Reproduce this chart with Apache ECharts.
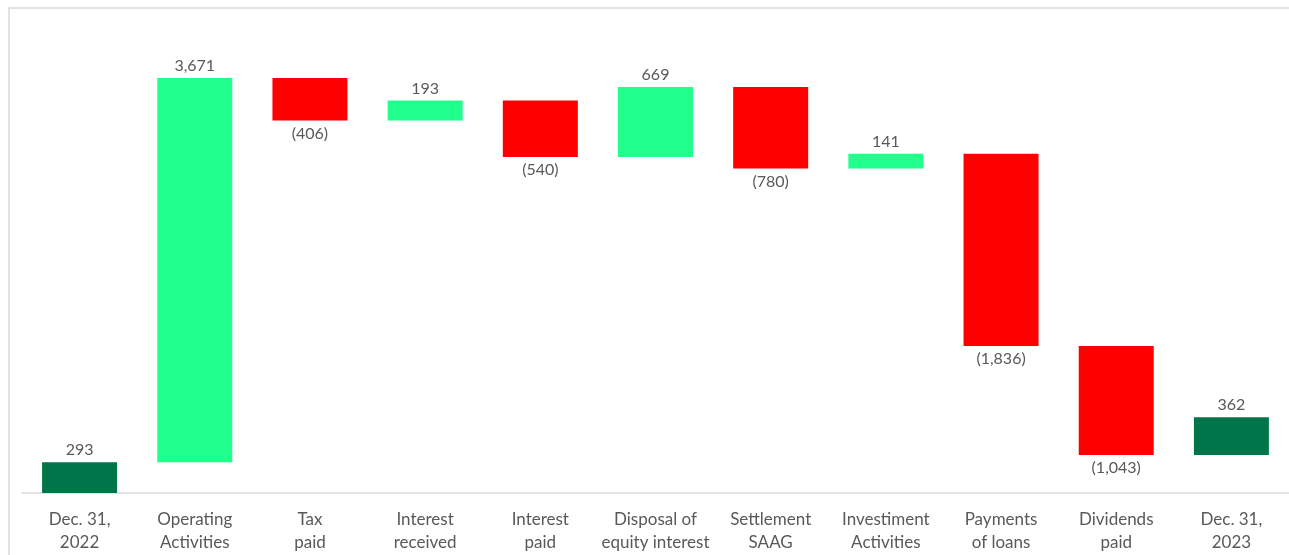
<!DOCTYPE html>
<html>
<head>
<meta charset="utf-8">
<style>
  html, body { margin: 0; padding: 0; background: #ffffff; }
  #chart { width: 1289px; height: 555px; }
</style>
<script src="https://cdn.jsdelivr.net/npm/echarts@6/dist/echarts.min.js"></script>
</head>
<body>
<div id="chart"></div>
<script>
// Cash flow bridge, 2022 -> 2023
const categories = [
  'Dec. 31,\n2022', 'Operating\nActivities', 'Tax\npaid', 'Interest\nreceived',
  'Interest\npaid', 'Disposal of\nequity interest', 'Settlement\nSAAG',
  'Investiment\nActivities', 'Payments\nof loans', 'Dividends\npaid', 'Dec. 31,\n2023'
];
// Signed movements; first and last entries are balances
const movements = [293, 3671, -406, 193, -540, 669, -780, 141, -1836, -1043, 362];
const kinds = ['total', 'step', 'step', 'step', 'step', 'step', 'step', 'step', 'step', 'step', 'total'];

const COLORS = { total: '#00754A', up: '#21FF8C', down: '#FF0000' };

// Build invisible offsets and visible bar heights
const base = [];
const heights = [];
let running = 0;
movements.forEach((v, i) => {
  if (i === 0) {
    base.push(0);
    heights.push(v);
    running = v;
  } else if (kinds[i] === 'total') {
    // closing balance bar sits on the last running level
    base.push(running);
    heights.push(v);
  } else if (v >= 0) {
    base.push(running);
    heights.push(v);
    running += v;
  } else {
    running += v;
    base.push(running);
    heights.push(-v);
  }
});

const fmt = (v) => {
  const s = Math.abs(v).toLocaleString('en-US');
  return v < 0 ? '(' + s + ')' : s;
};

const visible = heights.map((h, i) => {
  const v = movements[i];
  const color = kinds[i] === 'total' ? COLORS.total : (v >= 0 ? COLORS.up : COLORS.down);
  return {
    value: h,
    itemStyle: { color: color },
    label: {
      show: true,
      position: v >= 0 ? 'top' : 'bottom',
      distance: v >= 0 ? 4 : 5,
      formatter: fmt(v)
    }
  };
});

const chart = echarts.init(document.getElementById('chart'));
chart.setOption({
  animation: false,
  backgroundColor: '#ffffff',
  textStyle: { fontFamily: 'Lato, "Open Sans", sans-serif' },
  graphic: [{
    type: 'rect',
    shape: { x: 9, y: 8, width: 1320, height: 620 },
    style: { fill: 'none', stroke: '#d9d9d9', lineWidth: 1.5 },
    silent: true
  }],
  grid: { left: 22, right: 0, top: 22, bottom: 62, containLabel: false },
  xAxis: {
    type: 'category',
    data: categories,
    axisLine: { show: true, lineStyle: { color: '#d9d9d9', width: 1.5 } },
    axisTick: { show: false },
    axisLabel: {
      color: '#595959',
      fontSize: 17,
      lineHeight: 23,
      margin: 15,
      interval: 0,
      fontFamily: 'Lato, "Open Sans", sans-serif'
    },
    splitLine: { show: false }
  },
  yAxis: {
    type: 'value',
    min: 0,
    max: 4500,
    show: false,
    splitLine: { show: false }
  },
  series: [
    {
      name: 'base',
      type: 'bar',
      stack: 'bridge',
      barWidth: 75,
      itemStyle: { color: 'transparent' },
      emphasis: { disabled: true },
      data: base
    },
    {
      name: 'movement',
      type: 'bar',
      stack: 'bridge',
      barWidth: 75,
      label: {
        color: '#595959',
        fontSize: 16,
        fontFamily: 'Lato, "Open Sans", sans-serif'
      },
      data: visible
    }
  ]
});
</script>
</body>
</html>
